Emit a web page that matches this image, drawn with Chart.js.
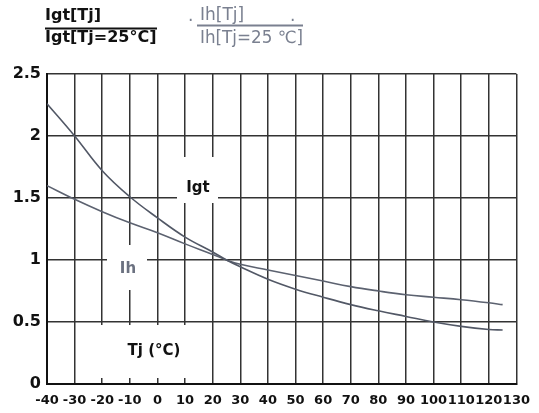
<!DOCTYPE html>
<html>
<head>
<meta charset="utf-8">
<script src="https://cdn.jsdelivr.net/npm/chart.js@4.4.0/dist/chart.umd.min.js"></script>
<style>
  body { margin: 0; background: #fff; }
  #wrap { width: 539px; height: 413px; }
</style>
</head>
<body>
<div id="wrap"><canvas id="myChart" width="539" height="413"></canvas></div>
<script>
// junction temperature (deg C)
var temps = [-40, -30, -20, -10, 0, 10, 20, 25, 30, 40, 50, 60, 70, 80, 90, 100, 110, 120, 125];
// Igt[Tj] / Igt[Tj=25C]
var igtRatio = [2.26, 2.0, 1.72, 1.51, 1.34, 1.185, 1.065, 1.0, 0.945, 0.845, 0.765, 0.70, 0.64, 0.59, 0.545, 0.50, 0.465, 0.44, 0.435];
// Ih[Tj] / Ih[Tj=25C]
var ihRatio = [1.60, 1.49, 1.39, 1.30, 1.22, 1.13, 1.045, 1.0, 0.965, 0.92, 0.875, 0.83, 0.785, 0.75, 0.72, 0.70, 0.68, 0.655, 0.64];

var xMin = -40, xMax = 130, xStep = 10;
var yMin = 0, yMax = 2.5, yStep = 0.5;

var FONT = '"DejaVu Sans", Verdana, sans-serif';

function toPoints(ys) {
	return temps.map(function (t, i) { return { x: t, y: ys[i] }; });
}

// title fractions + the boxed labels inside the grid
var labelsPlugin = {
	id: 'labels',
	afterDraw: function (chart) {
		var ctx = chart.ctx;
		ctx.save();

		// Igt fraction
		ctx.fillStyle = '#111';
		ctx.strokeStyle = '#111';
		ctx.font = 'bold 16px ' + FONT;
		ctx.textBaseline = 'alphabetic';
		ctx.textAlign = 'left';
		ctx.fillText('Igt[Tj]', 45, 20);
		ctx.lineWidth = 2;
		ctx.beginPath(); ctx.moveTo(45, 28.5); ctx.lineTo(157, 28.5); ctx.stroke();
		ctx.fillText('Igt[Tj=25°C]', 45, 42, 112);

		// Ih fraction
		ctx.fillStyle = '#7a8090';
		ctx.strokeStyle = '#7a8090';
		ctx.font = '17px ' + FONT;
		ctx.fillText('.', 188, 21);
		ctx.fillText('Ih[Tj]', 200, 20);
		ctx.fillText('.', 290, 21);
		ctx.beginPath(); ctx.moveTo(197, 25.5); ctx.lineTo(303, 25.5); ctx.stroke();
		ctx.fillText('Ih[Tj=25 ℃]', 200, 43, 103);

		// white boxes over the grid for the inner labels
		ctx.fillStyle = '#fff';
		ctx.fillRect(177, 157, 41, 46);
		ctx.fillRect(107, 245, 40, 45);
		ctx.fillRect(86, 325, 115, 53);

		ctx.textAlign = 'center';
		ctx.textBaseline = 'middle';
		ctx.font = 'bold 15px ' + FONT;
		ctx.fillStyle = '#111';
		ctx.fillText('Igt', 198, 188);
		ctx.fillStyle = '#6b7180';
		ctx.fillText('Ih', 128, 269);
		ctx.fillStyle = '#111';
		ctx.fillText('Tj (°C)', 154, 351);

		ctx.restore();
	}
};

var ctx = document.getElementById('myChart').getContext('2d');
var chart = new Chart(ctx, {
	type: 'line',
	data: {
		datasets: [{
			label: 'Igt',
			data: toPoints(igtRatio),
			borderColor: '#525866',
			borderWidth: 1.6,
			pointRadius: 0,
			tension: 0.4,
			fill: false
		}, {
			label: 'Ih',
			data: toPoints(ihRatio),
			borderColor: '#5c6270',
			borderWidth: 1.6,
			pointRadius: 0,
			tension: 0.4,
			fill: false
		}]
	},
	options: {
		responsive: false,
		animation: false,
		layout: { padding: { top: 74, left: 0, right: 18, bottom: 0 } },
		plugins: {
			legend: { display: false },
			tooltip: { enabled: false }
		},
		scales: {
			x: {
				type: 'linear',
				min: xMin,
				max: xMax,
				ticks: {
					stepSize: xStep,
					color: '#111',
					padding: 9,
					maxRotation: 0,
					autoSkip: false,
					font: { family: FONT, size: 13, weight: 'bold' }
				},
				grid: { color: '#333', lineWidth: 1.5, drawTicks: false },
				border: { color: '#111', width: 2 },
				afterFit: function (scale) { scale.height = 29; }
			},
			y: {
				min: yMin,
				max: yMax,
				ticks: {
					stepSize: yStep,
					color: '#111',
					padding: 6,
					font: { family: FONT, size: 16, weight: 'bold' },
					callback: function (v) { return String(v); }
				},
				grid: { color: '#333', lineWidth: 1.5, drawTicks: false },
				border: { color: '#111', width: 2 },
				afterFit: function (scale) { scale.width = 47; }
			}
		}
	},
	plugins: [labelsPlugin]
});
</script>
</body>
</html>
